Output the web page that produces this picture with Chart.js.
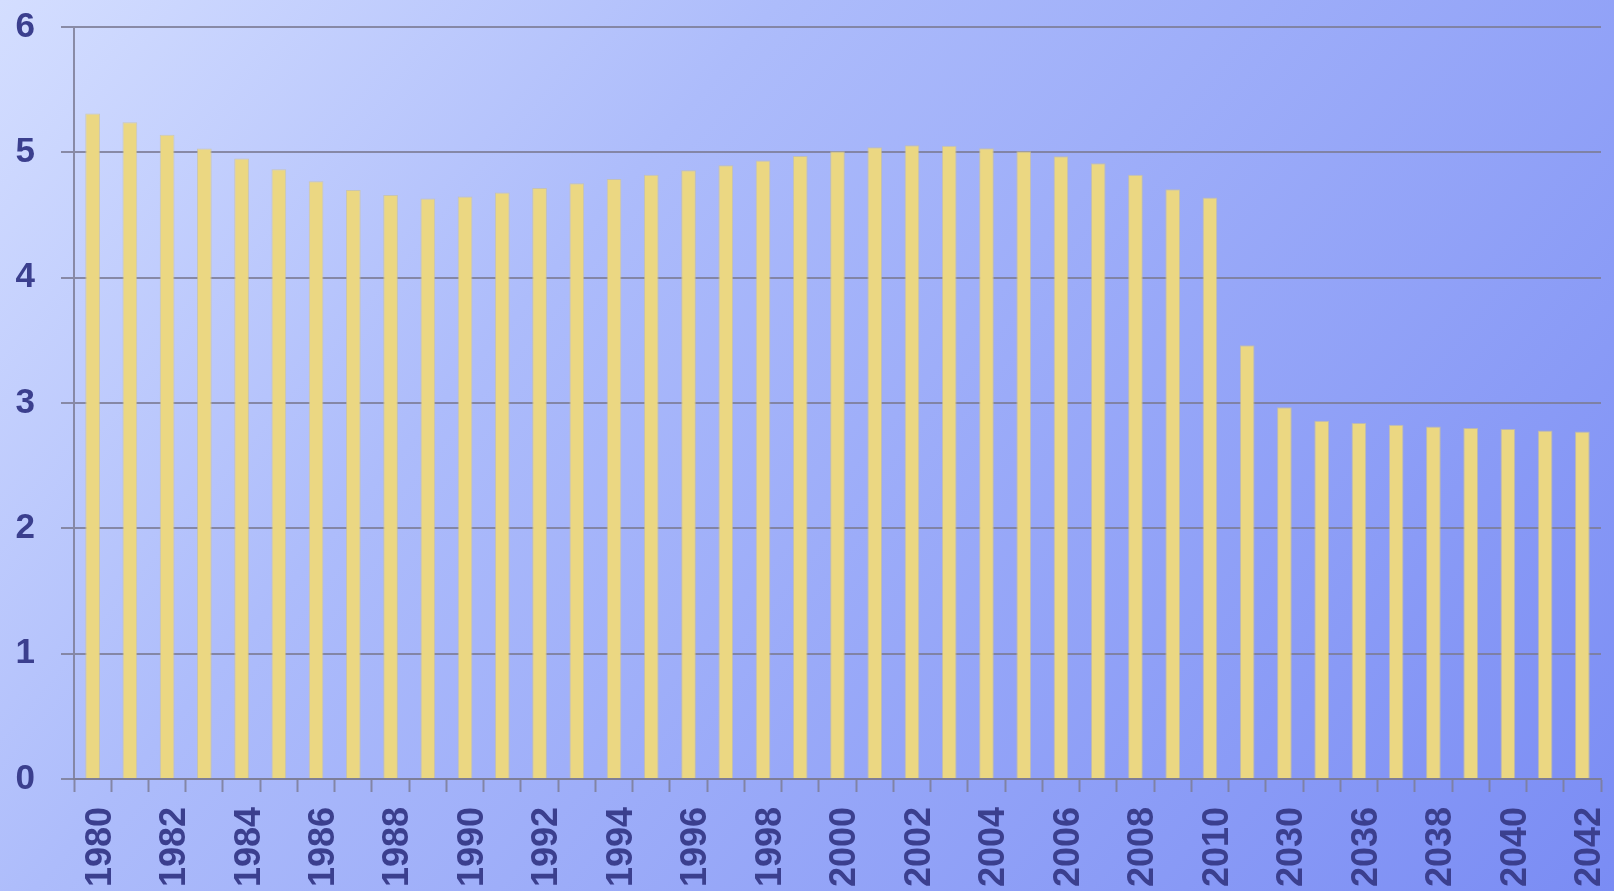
<!DOCTYPE html>
<html>
<head>
<meta charset="utf-8">
<script src="https://cdn.jsdelivr.net/npm/chart.js@4/dist/chart.umd.min.js"></script>
<style>
  html, body { margin: 0; padding: 0; }
  body {
    width: 1614px; height: 891px; overflow: hidden;
    background: linear-gradient(130deg, #d4deff 0%, #adbcfb 33%, #7a8cf4 100%);
  }
  #wrap { position: relative; width: 1614px; height: 891px; }
</style>
</head>
<body>
<div id="wrap"><canvas id="chart"></canvas></div>
<script>
// Years on the category axis
const years = [
  '1980','1981','1982','1983','1984','1985','1986','1987','1988','1989',
  '1990','1991','1992','1993','1994','1995','1996','1997','1998','1999',
  '2000','2001','2002','2003','2004','2005','2006','2007','2008','2009',
  '2010','2020','2030','2035','2036','2037','2038','2039','2040','2041','2042'
];

// Value for each year
const values = [
  5.31, 5.24, 5.14, 5.03, 4.95, 4.865, 4.77, 4.70, 4.66, 4.631,
  4.647, 4.68, 4.716, 4.753, 4.787, 4.822, 4.857, 4.896, 4.934, 4.97,
  5.008, 5.04, 5.056, 5.053, 5.032, 5.008, 4.968, 4.912, 4.822, 4.705,
  4.639, 3.46, 2.967, 2.858, 2.84, 2.826, 2.813, 2.80, 2.792, 2.781, 2.773
];

// Value axis range and step
const yMin = 0;
const yMax = 6;
const yStep = 1;

const labelColor = '#3b3f8e';
const lineColor = 'rgba(125,125,150,0.85)';
const labelFont = { family: 'Liberation Sans, Arial, sans-serif', size: 36, weight: 'bold' };

new Chart(document.getElementById('chart'), {
  type: 'bar',
  data: {
    labels: years,
    datasets: [{
      data: values,
      backgroundColor: '#ebd782',
      borderColor: 'rgba(205,195,150,0.7)',
      borderWidth: 1,
      categoryPercentage: 1,
      barPercentage: 0.395
    }]
  },
  options: {
    responsive: true,
    maintainAspectRatio: false,
    animation: false,
    layout: { padding: { left: 15, right: 13, top: 4, bottom: 0 } },
    plugins: { legend: { display: false }, tooltip: { enabled: false } },
    scales: {
      x: {
        afterFit: (scale) => {
          // fixed band for the rotated year labels, no extra side padding
          scale.height = 112;
          scale.paddingLeft = 0;
          scale.paddingRight = 0;
        },
        grid: {
          display: true,
          drawOnChartArea: false,
          drawTicks: true,
          tickLength: 13,
          tickWidth: 2,
          tickColor: lineColor,
          offset: true
        },
        border: { display: true, color: lineColor, width: 2 },
        ticks: {
          autoSkip: false,
          minRotation: 90,
          maxRotation: 90,
          padding: 15,
          labelOffset: 8,
          color: labelColor,
          font: labelFont,
          callback: function (value, index) {
            return index % 2 === 0 ? this.getLabelForValue(value) : '';
          }
        }
      },
      y: {
        min: yMin,
        max: yMax,
        afterFit: (scale) => {
          scale.width = 59;
          scale.paddingTop = 27;
          scale.paddingBottom = 0;
        },
        grid: {
          color: lineColor,
          lineWidth: 2,
          drawTicks: true,
          tickLength: 13
        },
        border: { display: true, color: lineColor, width: 2 },
        ticks: {
          stepSize: yStep,
          padding: 26,
          color: labelColor,
          font: { family: 'Liberation Sans, Arial, sans-serif', size: 35, weight: 'bold' }
        }
      }
    }
  }
});
</script>
</body>
</html>
